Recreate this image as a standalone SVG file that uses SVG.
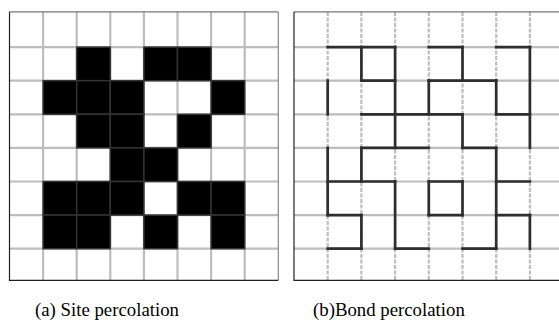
<svg xmlns="http://www.w3.org/2000/svg" width="559" height="322" viewBox="0 0 559 322">
<style>
.grid{stroke:#bdbdbd;stroke-width:2.2;fill:none}
.dash{stroke:#bdbdbd;stroke-width:2.2;stroke-dasharray:4 1.5;fill:none}
.cell{fill:#000;stroke:#333;stroke-width:1.5}
.bond{stroke:#2e2e2e;stroke-width:2.7;fill:none;stroke-linecap:square}
.lbl{font-family:"Liberation Serif","Times New Roman",serif;font-size:18.8px;fill:#000}
</style>
<rect width="559" height="322" fill="#fff"/>
<g id="site">
  <g class="grid">
    <path d="M43.1 12V280M76.7 12V280M110.3 12V280M143.9 12V280M177.5 12V280M211.1 12V280M244.7 12V280"/>
    <path d="M9.5 47.1H278.3M9.5 80.7H278.3M9.5 114.3H278.3M9.5 147.9H278.3M9.5 181.5H278.3M9.5 215.1H278.3M9.5 248.7H278.3"/>
  </g>
  <g>
    <rect class="cell" x="76.7" y="47.1" width="33.6" height="33.6"/>
    <rect class="cell" x="143.9" y="47.1" width="33.6" height="33.6"/>
    <rect class="cell" x="177.5" y="47.1" width="33.6" height="33.6"/>
    <rect class="cell" x="43.1" y="80.7" width="33.6" height="33.6"/>
    <rect class="cell" x="76.7" y="80.7" width="33.6" height="33.6"/>
    <rect class="cell" x="110.3" y="80.7" width="33.6" height="33.6"/>
    <rect class="cell" x="211.1" y="80.7" width="33.6" height="33.6"/>
    <rect class="cell" x="76.7" y="114.3" width="33.6" height="33.6"/>
    <rect class="cell" x="110.3" y="114.3" width="33.6" height="33.6"/>
    <rect class="cell" x="177.5" y="114.3" width="33.6" height="33.6"/>
    <rect class="cell" x="110.3" y="147.9" width="33.6" height="33.6"/>
    <rect class="cell" x="143.9" y="147.9" width="33.6" height="33.6"/>
    <rect class="cell" x="43.1" y="181.5" width="33.6" height="33.6"/>
    <rect class="cell" x="76.7" y="181.5" width="33.6" height="33.6"/>
    <rect class="cell" x="110.3" y="181.5" width="33.6" height="33.6"/>
    <rect class="cell" x="177.5" y="181.5" width="33.6" height="33.6"/>
    <rect class="cell" x="211.1" y="181.5" width="33.6" height="33.6"/>
    <rect class="cell" x="43.1" y="215.1" width="33.6" height="33.6"/>
    <rect class="cell" x="76.7" y="215.1" width="33.6" height="33.6"/>
    <rect class="cell" x="143.9" y="215.1" width="33.6" height="33.6"/>
    <rect class="cell" x="211.1" y="215.1" width="33.6" height="33.6"/>
  </g>
  <path d="M9.5 11.8H278.3" stroke="#777" stroke-width="1.2"/>
  <path d="M278.3 11.8V280.3" stroke="#888" stroke-width="1.2"/>
  <path d="M9.5 11.8V280.3H278.3" stroke="#222" stroke-width="1.2" fill="none"/>
  <text class="lbl" x="35" y="316">(a) Site percolation</text>
</g>
<g id="bond">
  <path class="dash" d="M327.7 12V280M361.4 12V280M395.1 12V280M428.8 12V280M462.5 12V280M496.2 12V280M529.9 12V280"/>
  <path class="grid" d="M294 47.1H559M294 80.7H559M294 114.3H559M294 147.9H559M294 181.5H559M294 215.1H559M294 248.7H559"/>
  <path d="M294 11.8H559" stroke="#777" stroke-width="1.2"/>
  <path d="M294 11.8V280.3H559" stroke="#222" stroke-width="1.2" fill="none"/>
  <text class="lbl" x="313" y="316">(b)Bond percolation</text>
</g>
<g id="connectors" class="bond">
  <path d="M327.7 47.1H395.1M428.8 47.1H462.5M496.2 47.1H529.9"/>
  <path d="M361.4 80.7H395.1M428.8 80.7H496.2"/>
  <path d="M361.4 114.3H462.5M496.2 114.3H529.9"/>
  <path d="M361.4 147.9H428.8M462.5 147.9H496.2"/>
  <path d="M327.7 181.5H395.1M428.8 181.5H462.5M496.2 181.5H529.9"/>
  <path d="M327.7 215.1H361.4M428.8 215.1H462.5M496.2 215.1H529.9"/>
  <path d="M327.7 248.7H361.4M395.1 248.7H428.8M462.5 248.7H496.2"/>
  <path d="M327.7 80.7V114.3M327.7 147.9V215.1"/>
  <path d="M361.4 47.1V80.7M361.4 147.9V181.5M361.4 215.1V248.7"/>
  <path d="M395.1 47.1V147.9M395.1 181.5V248.7"/>
  <path d="M428.8 80.7V114.3M428.8 181.5V215.1"/>
  <path d="M462.5 47.1V80.7M462.5 114.3V147.9M462.5 181.5V215.1"/>
  <path d="M496.2 80.7V114.3M496.2 147.9V248.7"/>
  <path d="M529.9 47.1V147.9M529.9 215.1V248.7"/>
</g>
</svg>
